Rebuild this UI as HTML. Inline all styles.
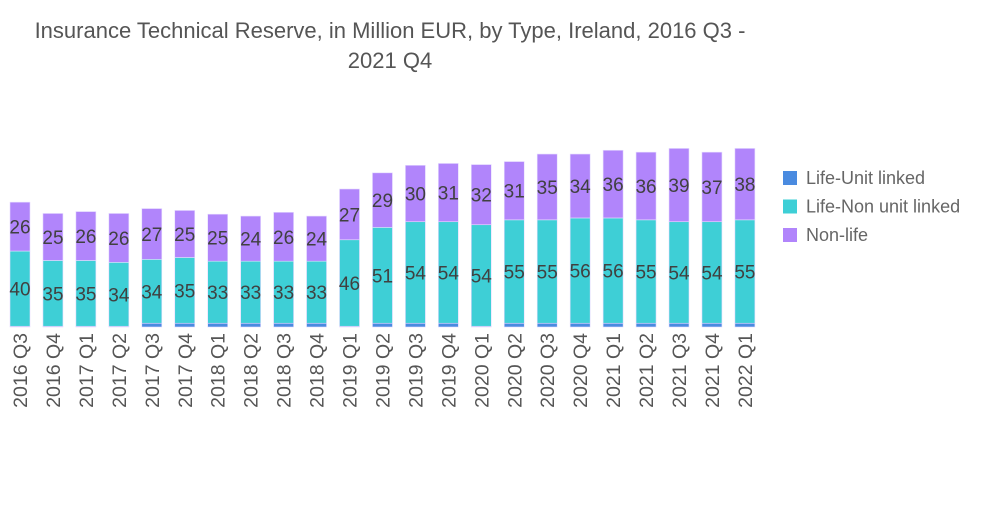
<!DOCTYPE html>
<html><head><meta charset="utf-8"><style>
body{margin:0;width:1000px;height:504px;background:#fff;font-family:"Liberation Sans",sans-serif;overflow:hidden}
</style></head><body>
<svg id="chart" width="1000" height="504">
<text x="390" y="38" text-anchor="middle" font-size="22" fill="#555">Insurance Technical Reserve, in Million EUR, by Type, Ireland, 2016 Q3 -</text>
<text x="390" y="68" text-anchor="middle" font-size="22" fill="#555">2021 Q4</text>
<g id="bars"></g>
<g id="legend"></g>
</svg>
<script>
const categories=["2016 Q3","2016 Q4","2017 Q1","2017 Q2","2017 Q3","2017 Q4","2018 Q1","2018 Q2","2018 Q3","2018 Q4","2019 Q1","2019 Q2","2019 Q3","2019 Q4","2020 Q1","2020 Q2","2020 Q3","2020 Q4","2021 Q1","2021 Q2","2021 Q3","2021 Q4","2022 Q1"];
const unitLinked=[0.4,0.4,0.4,0.4,2,2,2,2,2,2,0.4,2,2,2,0.4,2,2,2,2,2,2,2,2];
const nonUnitLinked=[40,35,35,34,34,35,33,33,33,33,46,51,54,54,54,55,55,56,56,55,54,54,55];
const nonLife=[26,25,26,26,27,25,25,24,26,24,27,29,30,31,32,31,35,34,36,36,39,37,38];
const seriesNames=["Life-Unit linked","Life-Non unit linked","Non-life"];
const colors=["#4a8be0","#3ecfd6","#b185fb"];
const NS="http://www.w3.org/2000/svg";
const base=327, scale=1.88, x0=10, step=32.95, bw=20;
const yLen=v=>v*scale;
const xPos=i=>x0+i*step;
const g=document.getElementById('bars');
function mk(t,a){const e=document.createElementNS(NS,t);for(const k in a)e.setAttribute(k,a[k]);return e;}
const series=[unitLinked,nonUnitLinked,nonLife];
categories.forEach((c,i)=>{
  let y=base;
  series.forEach((s,si)=>{
    const h=yLen(s[i]);
    const r=mk('rect',{x:xPos(i),y:y-h,width:bw,height:h,fill:colors[si],stroke:'#e6dcff','stroke-width':0.6});
    
    
    g.appendChild(r);
    if(si>0){
      const t=mk('text',{x:xPos(i)+bw/2,y:y-h/2+7,'text-anchor':'middle','font-size':19,fill:'#404040'});
      t.textContent=Math.round(s[i]);
      
      
      g.appendChild(t);
    }
    y-=h;
  });
  const lx=xPos(i)+bw/2+7;
  const t=mk('text',{x:lx,y:333,transform:`rotate(-90 ${lx} 333)`,'text-anchor':'end','font-size':19.5,fill:'#555'});
  t.textContent=c;
  
  
  g.appendChild(t);
});
const lg=document.getElementById('legend');
seriesNames.forEach((n,i)=>{
  const y=171+i*28.5;
  const r=mk('rect',{x:783,y:y,width:14,height:14,fill:colors[i]});
  
  
  lg.appendChild(r);
  const t=mk('text',{x:806,y:y+13,'font-size':18,fill:'#666'});
  t.textContent=n;
  
  
  lg.appendChild(t);
});
</script>
</body></html>
